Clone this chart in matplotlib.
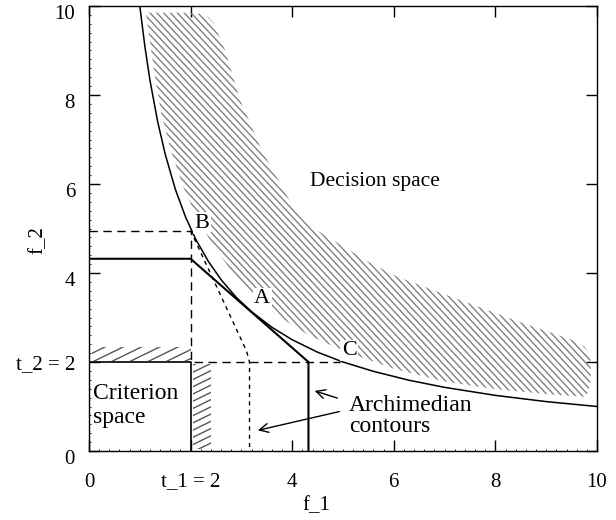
import numpy as np
import matplotlib
matplotlib.use("Agg")
import matplotlib.pyplot as plt
from matplotlib.patches import Polygon
from matplotlib.collections import LineCollection
from matplotlib.transforms import IdentityTransform, ScaledTranslation
from matplotlib.ticker import MultipleLocator

plt.rcParams['font.family'] = ['Liberation Serif', 'DejaVu Serif']

# decision space boundary f_2 = 10 / f_1
front_f1 = [1.0, 1.1, 1.2, 1.35, 1.5, 1.7, 1.9, 2.1, 2.35, 2.6, 2.9, 3.2, 3.6,
            4.0, 4.5, 5.0, 5.6, 6.3, 7.0, 8.0, 9.0, 10.0]
front_f2 = [10.0, 9.09, 8.33, 7.41, 6.67, 5.88, 5.26, 4.76, 4.26, 3.85, 3.45,
            3.13, 2.78, 2.5, 2.22, 2.0, 1.79, 1.59, 1.43, 1.25, 1.11, 1.0]

# archimedian contours
solid_f1 = [0, 2.0, 4.32, 4.32]
solid_f2 = [4.32, 4.32, 2.0, 0]
short_f1 = [2.0, 3.1, 3.16, 3.16]
short_f2 = [4.95, 2.25, 2.0, 0]

# goal (t_1, t_2) construction lines
long_f1 = [0, 2.0, 2.0, 4.95]
long_f2 = [4.95, 4.95, 2.0, 2.0]
box_f1 = [0, 2.0, 2.0]
box_f2 = [2.0, 2.0, 0]

# shaded band inside the decision space
band_low_f1 = [1.12, 1.2, 1.3, 1.42, 1.6, 1.85, 2.1, 2.4, 2.8, 3.2, 3.7, 4.3,
               5.0, 6.0, 7.0, 8.0, 9.0, 9.75]
band_low_f2 = [9.85, 9.2, 8.4, 7.6, 6.8, 5.95, 5.3, 4.7, 4.05, 3.55, 3.05, 2.62,
               2.25, 1.85, 1.56, 1.39, 1.28, 1.22]
band_up_f1 = [2.0, 2.2, 2.35, 2.45, 2.55, 2.68, 2.97, 3.4, 4.02, 4.5, 5.0, 5.5,
              6.06, 7.1, 8.0, 8.6, 9.2, 9.55, 9.75, 9.87, 9.88, 9.82]
band_up_f2 = [9.85, 9.82, 9.75, 9.62, 9.35, 9.0, 7.9, 6.76, 5.48, 4.95, 4.6, 4.25,
              3.92, 3.48, 3.1, 2.85, 2.62, 2.48, 2.35, 2.15, 1.6, 1.3]

# small strips next to the criterion space
strip_top_f1 = [0.06, 2.0, 2.0, 0.06]
strip_top_f2 = [2.03, 2.03, 2.33, 2.33]
strip_side_f1 = [2.05, 2.4, 2.4, 2.05]
strip_side_f2 = [0.05, 0.05, 1.96, 1.96]

xticks = [0, 2, 4, 6, 8, 10]
xtick_labels = ['0', 't_1 = 2', '4', '6', '8', '10']
yticks = [0, 2, 4, 6, 8, 10]
ytick_labels = ['0', 't_2 = 2', '4', '6', '8', '10']


def hatch(ax, xs, ys, angle, step, color, lw=1.0):
    # parallel lines in pixel space, clipped to the polygon
    poly = Polygon(np.column_stack([xs, ys]), closed=True, fc='none', ec='none',
                   transform=ax.transData)
    ax.add_patch(poly)
    pts = ax.transData.transform(np.column_stack([xs, ys]))
    (x0, y0), (x1, y1) = pts.min(0), pts.max(0)
    cx, cy = (x0 + x1) / 2, (y0 + y1) / 2
    r = np.hypot(x1 - x0, y1 - y0) / 2 + step
    a = np.radians(angle)
    d = np.array([np.cos(a), np.sin(a)])
    n = np.array([-d[1], d[0]])
    segs = []
    for o in np.arange(-r, r + step, step):
        c = np.array([cx, cy]) + o * n
        segs.append([c - r * d, c + r * d])
    lc = LineCollection(segs, colors=color, linewidths=lw, transform=IdentityTransform())
    lc.set_clip_path(poly)
    ax.add_collection(lc, autolim=False)


fig = plt.figure(figsize=(6.16, 5.2), dpi=100)
ax = fig.add_axes([89 / 616, 1 - 451 / 520, 508 / 616, 445 / 520])
ax.set_xlim(0, 10)
ax.set_ylim(0, 10)

hatch(ax, band_low_f1 + band_up_f1[::-1], band_low_f2 + band_up_f2[::-1],
      -47, 5.0, '#808080', 1.0)
hatch(ax, strip_top_f1, strip_top_f2, 26, 8.0, '#555555', 1.0)
hatch(ax, strip_side_f1, strip_side_f2, 26, 6.5, '#555555', 1.0)

ax.plot(front_f1, front_f2, color='black', lw=1.1)
ax.plot(solid_f1, solid_f2, color='black', lw=1.5)
ax.plot(short_f1, short_f2, color='black', lw=1.0, dashes=(3, 3))
ax.plot(long_f1, long_f2, color='black', lw=1.0, dashes=(6, 4))
ax.plot(box_f1, box_f2, color='black', lw=1.2)

lab = dict(fontsize=16, ha='center', va='center',
           bbox=dict(fc='white', ec='none', pad=1))
ax.text(2.22, 5.12, 'B', **lab)
ax.text(3.41, 3.42, 'A', **lab)
ax.text(5.12, 2.26, 'C', **lab)
ax.text(5.63, 6.05, 'Decision space', fontsize=15.5, ha='center', va='center')
ax.text(0.08, 1.02, 'Criterion\nspace', fontsize=17, ha='left', va='center',
        linespacing=1.15)
ax.text(5.12, 0.78, 'Archimedian\ncontours', fontsize=17, ha='left', va='center',
        linespacing=1.0)

arw = dict(arrowstyle='->', color='black', lw=1.0, mutation_scale=16)
ax.annotate('', xy=(4.39, 1.37), xytext=(4.94, 1.17), arrowprops=arw)
ax.annotate('', xy=(3.27, 0.45), xytext=(4.98, 0.9), arrowprops=arw)

ax.set_xticks(xticks)
ax.set_xticklabels(xtick_labels)
ax.set_yticks(yticks)
ax.set_yticklabels(ytick_labels)
ax.xaxis.set_minor_locator(MultipleLocator(0.2))
ax.yaxis.set_minor_locator(MultipleLocator(0.2))
ax.tick_params(which='major', direction='in', length=8, width=1,
               labelsize=15, top=True, right=True)
ax.tick_params(axis='x', which='major', pad=15.5)
ax.tick_params(axis='y', which='major', pad=10)
ax.tick_params(which='minor', direction='in', length=1.5, width=0.6)
for sp in ax.spines.values():
    sp.set_linewidth(1.0)

# the plain numbers on the y axis sit a little below their ticks
for lbl in ax.get_yticklabels():
    if lbl.get_text().isdigit():
        lbl.set_transform(lbl.get_transform() + ScaledTranslation(0, -6 / 100, fig.dpi_scale_trans))

ax.set_xlabel('f_1', fontsize=15)
ax.xaxis.set_label_coords(0.447, -0.122)
ax.xaxis.label.set_va('center')
ax.set_ylabel('f_2', fontsize=15)
ax.yaxis.set_label_coords(-0.1, 0.474)
ax.yaxis.label.set_va('center')

fig.savefig('out.png', dpi=100)
